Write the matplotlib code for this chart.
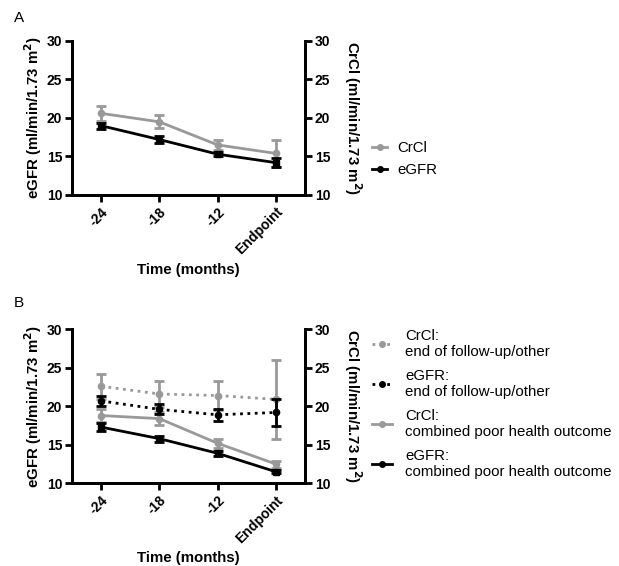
import numpy as np
import matplotlib.pyplot as plt
from matplotlib.lines import Line2D

plt.rcParams['font.family'] = ['Liberation Sans', 'DejaVu Sans']

# time points
times = ['-24', '-18', '-12', 'Endpoint']

# panel A: all patients
crcl_a = [20.6, 19.5, 16.5, 15.4]
crcl_a_err = [1.0, 0.85, 0.65, 1.8]
egfr_a = [19.0, 17.2, 15.3, 14.2]
egfr_a_err = [0.4, 0.4, 0.3, 0.6]

# panel B: by outcome
crcl_other = [22.6, 21.6, 21.4, 20.9]
crcl_other_err = [1.6, 1.7, 1.9, 5.1]
egfr_other = [20.7, 19.6, 18.9, 19.2]
egfr_other_err = [0.7, 0.65, 0.75, 1.7]
crcl_poor = [18.8, 18.4, 15.2, 12.5]
crcl_poor_err = [0.9, 0.8, 0.6, 0.45]
egfr_poor = [17.3, 15.8, 13.9, 11.5]
egfr_poor_err = [0.5, 0.4, 0.3, 0.2]

GRAY = '#999999'
x = np.arange(len(times))

fig = plt.figure(figsize=(6.19, 5.66), dpi=100)


def setup(ax, ax2):
    for a in (ax, ax2):
        a.set_ylim(10, 30)
        a.set_yticks([10, 15, 20, 25, 30])
        a.spines['top'].set_visible(False)
        for s in ('left', 'right', 'bottom'):
            a.spines[s].set_linewidth(2)
        a.tick_params(width=2, length=5, labelsize=10, pad=2)
        for lab in a.get_yticklabels():
            lab.set_fontweight('bold')
    ax.set_xlim(-0.5, 3.5)
    ax.set_xticks(x)
    ax.set_xticklabels(times, rotation=45, ha='right', rotation_mode='anchor',
                       fontweight='bold', fontsize=10)
    ax.set_xlabel('Time (months)', fontweight='bold', fontsize=10.8, labelpad=4)
    ax.set_ylabel('eGFR (ml/min/1.73 m$^\\mathbf{2}$)', fontweight='bold', fontsize=10.8,
                  va='center', ha='center')
    ax.yaxis.set_label_coords(-0.167, 0.5)
    ax2.set_ylabel('CrCl (ml/min/1.73 m$^\\mathbf{2}$)', fontweight='bold', fontsize=10.8,
                   rotation=-90, va='center', ha='center')
    ax2.yaxis.set_label_coords(1.205, 0.5)
    ax.set_zorder(ax2.get_zorder() + 1)
    ax.patch.set_visible(False)


def series(ax, y, err, color, ls, marker):
    ax.errorbar(x, y, yerr=err, color=color, linestyle=ls, lw=2, marker=marker, ms=4.5,
                elinewidth=2, capsize=3.5, capthick=2)


# panel A
axA = fig.add_axes([0.1163, 0.6555, 0.3764, 0.2721])
axA2 = axA.twinx()
series(axA2, crcl_a, crcl_a_err, GRAY, '-', 'o')
series(axA, egfr_a, egfr_a_err, 'black', '-', 's')
setup(axA, axA2)
fig.text(0.022, 0.962, 'A', fontsize=11)

hA = [Line2D([], [], color=GRAY, lw=2, marker='o', ms=4),
      Line2D([], [], color='black', lw=2, marker='o', ms=4)]
fig.legend(hA, ['CrCl', 'eGFR'], loc='center left', bbox_to_anchor=(0.601, 0.719),
           frameon=False, fontsize=10.8, handlelength=1.0, handletextpad=0.67,
           labelspacing=0.55, borderpad=0, borderaxespad=0)

# panel B
axB = fig.add_axes([0.1163, 0.1461, 0.3764, 0.2721])
axB2 = axB.twinx()
series(axB2, crcl_other, crcl_other_err, GRAY, ':', 'o')
series(axB2, crcl_poor, crcl_poor_err, GRAY, '-', 'o')
series(axB, egfr_other, egfr_other_err, 'black', ':', 'o')
series(axB, egfr_poor, egfr_poor_err, 'black', '-', 's')
setup(axB, axB2)
fig.text(0.022, 0.458, 'B', fontsize=11)

hB = [Line2D([], [], color=GRAY, lw=2, ls=':', marker='o', ms=4),
      Line2D([], [], color='black', lw=2, ls=':', marker='o', ms=4),
      Line2D([], [], color=GRAY, lw=2, marker='o', ms=4),
      Line2D([], [], color='black', lw=2, marker='o', ms=4)]
labelsB = ['CrCl:\nend of follow-up/other', 'eGFR:\nend of follow-up/other',
           'CrCl:\ncombined poor health outcome', 'eGFR:\ncombined poor health outcome']
fig.legend(hB, labelsB, loc='center left', bbox_to_anchor=(0.601, 0.2862),
           frameon=False, fontsize=10.8, handlelength=1.33, handletextpad=0.9,
           labelspacing=0.65, borderpad=0, borderaxespad=0)

fig.savefig('out.png', dpi=100)
